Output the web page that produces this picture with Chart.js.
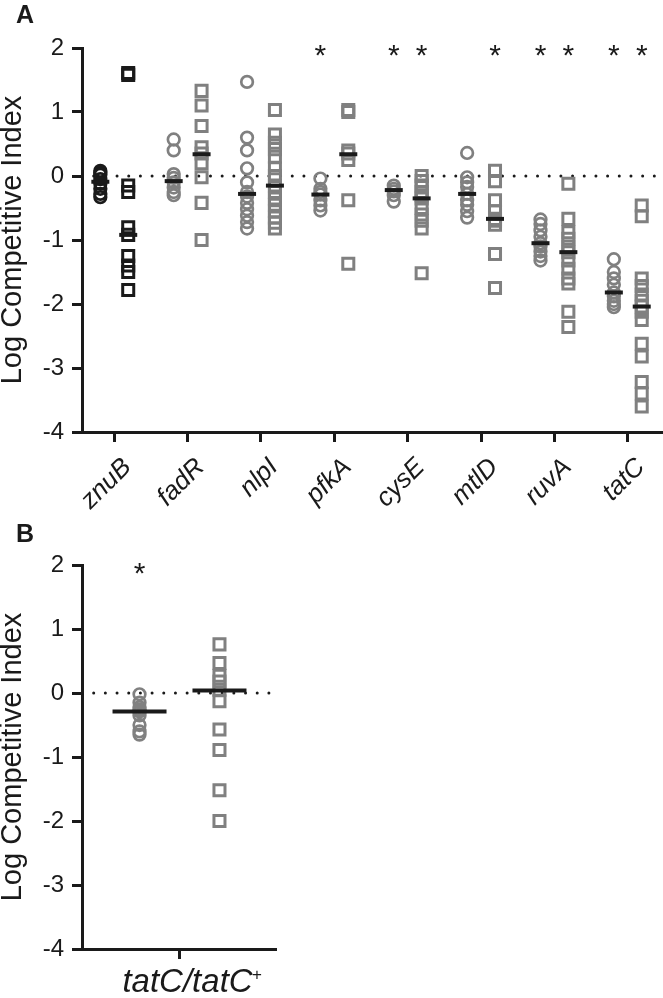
<!DOCTYPE html>
<html><head><meta charset="utf-8">
<script src="https://cdn.jsdelivr.net/npm/chart.js@4.4.1/dist/chart.umd.min.js"></script>
<style>
html,body{margin:0;padding:0;background:#fff;overflow:hidden;}
body{width:663px;height:998px;position:relative;font-family:'Liberation Sans',Arial,Helvetica,sans-serif;}
canvas{position:absolute;left:0;}
#ca{top:0;}
#cb{top:500px;}
.pl{position:absolute;font-weight:bold;font-size:25px;color:#1a1a1a;line-height:1;}
</style></head><body>
<canvas id="ca" width="663" height="530"></canvas>
<canvas id="cb" width="277" height="498"></canvas>
<div class="pl" style="left:16px;top:2px">A</div>
<div class="pl" style="left:16px;top:521px">B</div>
<script>
// ---------- Panel A data ----------
const genes = ['znuB','fadR','nlpI','pfkA','cysE','mtlD','ruvA','tatC'];
const yTicks = [-4,-3,-2,-1,0,1,2];
const znuB_circles = [0.08,0.05,0.02,-0.05,-0.12,-0.2,-0.28,-0.33];
const znuB_squares = [1.61,1.58,-0.15,-0.25,-0.8,-0.92,-1.25,-1.4,-1.5,-1.78];
const fadR_circles = [0.57,0.4,0.03,-0.03,-0.1,-0.18,-0.25,-0.3];
const fadR_squares = [1.33,1.1,0.78,0.45,0.35,0.2,-0.02,-0.42,-1.0];
const nlpI_circles = [1.47,0.6,0.4,0.12,-0.1,-0.25,-0.32,-0.42,-0.52,-0.62,-0.72,-0.82];
const nlpI_squares = [1.03,0.65,0.52,0.42,0.3,0.12,0.0,-0.15,-0.25,-0.35,-0.45,-0.55,-0.65,-0.73,-0.82];
const pfkA_circles = [-0.04,-0.2,-0.25,-0.29,-0.38,-0.46,-0.54];
const pfkA_squares = [1.03,1.0,0.4,0.35,0.25,-0.38,-1.37];
const cysE_circles = [-0.15,-0.2,-0.24,-0.3,-0.4];
const cysE_squares = [0.0,-0.08,-0.15,-0.25,-0.3,-0.35,-0.5,-0.6,-0.7,-0.82,-1.52];
const mtlD_circles = [0.36,-0.02,-0.1,-0.17,-0.28,-0.38,-0.45,-0.55,-0.65];
const mtlD_squares = [0.08,-0.08,-0.38,-0.55,-0.67,-0.7,-0.76,-1.22,-1.75];
const ruvA_circles = [-0.68,-0.75,-0.85,-0.95,-1.05,-1.1,-1.18,-1.25,-1.32];
const ruvA_squares = [-0.12,-0.67,-0.88,-0.98,-1.1,-1.19,-1.32,-1.45,-1.6,-1.68,-2.12,-2.36];
const tatC_circles = [-1.3,-1.5,-1.6,-1.7,-1.82,-1.88,-1.95,-2.0,-2.05];
const tatC_squares = [-0.46,-0.63,-1.6,-1.72,-1.85,-1.95,-2.04,-2.12,-2.25,-2.62,-2.82,-3.22,-3.4,-3.6];
const circleMedians = [-0.09,-0.08,-0.28,-0.29,-0.22,-0.28,-1.05,-1.82];
const squareMedians = [-0.92,0.34,-0.15,0.34,-0.35,-0.67,-1.19,-2.04];
const circleStars = [0,0,0,1,1,0,1,1];
const squareStars = [0,0,0,0,1,1,1,1];
const circleGroups = [znuB_circles,fadR_circles,nlpI_circles,pfkA_circles,cysE_circles,mtlD_circles,ruvA_circles,tatC_circles];
const squareGroups = [znuB_squares,fadR_squares,nlpI_squares,pfkA_squares,cysE_squares,mtlD_squares,ruvA_squares,tatC_squares];
const starLevel = 1.96;

// ---------- Panel B data ----------
const labelB = ['tatC/tatC'];
const labelBSup = ['+'];
const circlesB = [-0.02,-0.15,-0.22,-0.26,-0.29,-0.35,-0.5,-0.6,-0.65];
const squaresB = [0.76,0.47,0.27,0.18,0.05,-0.13,-0.57,-0.89,-1.52,-2.0];
const mediansB = [-0.29,0.04];
const starsB = [1,0];

// ---------- styles ----------
const FONT = "'Liberation Sans', Arial, Helvetica, sans-serif";
const INK = '#1a1a1a';
const GRAY = '#808080';

const starPlugin = {
  id: 'stars',
  afterDatasetsDraw(chart, args, opts) {
    const {ctx} = chart; const x = chart.scales.x, y = chart.scales.y;
    ctx.save();
    ctx.font = '30px ' + FONT; ctx.fillStyle = INK; ctx.textAlign = 'center'; ctx.textBaseline = 'alphabetic';
    const m = ctx.measureText('*');
    const shift = (m.actualBoundingBoxAscent - m.actualBoundingBoxDescent) / 2;
    for (const s of opts.list || []) {
      ctx.fillText('*', x.getPixelForValue(s.x), y.getPixelForValue(s.y) + shift);
    }
    ctx.restore();
  }
};

// category label with superscript for panel B
const supLabelPlugin = {
  id: 'supLabel',
  afterDraw(chart, args, opts) {
    if (!opts.text) return;
    const {ctx} = chart; const x = chart.scales.x;
    ctx.save();
    ctx.fillStyle = INK; ctx.textBaseline = 'alphabetic'; ctx.textAlign = 'left';
    const mainFont = 'italic 33px ' + FONT, supFont = 'italic 17px ' + FONT;
    ctx.font = mainFont; const w1 = ctx.measureText(opts.text).width;
    ctx.font = supFont; const w2 = ctx.measureText(opts.sup).width;
    const cx = x.getPixelForValue(0) + 13;
    const x0 = cx - (w1 + w2) / 2;
    const base = x.top + 43;
    ctx.font = mainFont; ctx.fillText(opts.text, x0, base);
    ctx.font = supFont; ctx.fillText(opts.sup, x0 + w1 - 1, base - 12);
    ctx.restore();
  }
};

function axisCommon() {
  return {
    grid: {display: true, drawOnChartArea: false, drawTicks: true, tickLength: 10, color: INK, lineWidth: 3},
    border: {display: true, color: INK, width: 3}
  };
}

function yAxis() {
  return Object.assign(axisCommon(), {
    min: -4, max: 2,
    afterBuildTicks: s => { s.ticks = yTicks.map(v => ({value: v})); },
    afterFit: s => { s.width = 82; },
    ticks: {padding: 8, color: INK, font: {family: FONT, size: 24}, callback: v => String(v)},
    title: {display: true, text: 'Log Competitive Index', color: INK, padding: {top: -2, bottom: 0}, font: {family: FONT, size: 29, lineHeight: 1}}
  });
}

function dotLine(x0, x1) {
  return {type: 'line', order: 3, data: [{x: x0, y: 0}, {x: x1, y: 0}], borderColor: INK, borderWidth: 3,
          borderDash: [0.01, 11.67], borderCapStyle: 'round', pointRadius: 0, fill: false};
}

// ---------- Panel A ----------
const OFF = 0.19;
const dsA = [];
dsA.push({type: 'scatter', order: 0,
  data: genes.flatMap((g, i) => [{x: i - OFF, y: circleMedians[i]}, {x: i + OFF, y: squareMedians[i]}]),
  pointStyle: 'line', pointRadius: 9, borderWidth: 4, borderColor: INK, backgroundColor: INK});
genes.forEach((g, i) => {
  const col = i === 0 ? INK : GRAY;
  dsA.push({type: 'scatter', order: 1, data: circleGroups[i].map(v => ({x: i - OFF, y: v})),
    pointStyle: 'circle', pointRadius: 5.8, borderWidth: 2.7, borderColor: col, backgroundColor: 'rgba(0,0,0,0)'});
  dsA.push({type: 'scatter', order: 1, data: squareGroups[i].map(v => ({x: i + OFF, y: v})),
    pointStyle: 'rect', pointRadius: 7.8, borderWidth: 3, borderColor: col, backgroundColor: 'rgba(0,0,0,0)'});
});
const XMIN_A = -0.44, XMAX_A = 7.48;
dsA.push(dotLine(XMIN_A, XMAX_A));

const starsA = [];
genes.forEach((g, i) => {
  if (circleStars[i]) starsA.push({x: i - OFF, y: starLevel});
  if (squareStars[i]) starsA.push({x: i + OFF, y: starLevel});
});

new Chart(document.getElementById('ca'), {
  data: {datasets: dsA},
  plugins: [starPlugin],
  options: {
    responsive: false, animation: false, events: [],
    layout: {autoPadding: false, padding: {top: 48, left: 0, right: 0, bottom: 0}},
    plugins: {legend: {display: false}, tooltip: {enabled: false}, stars: {list: starsA}},
    scales: {
      x: Object.assign(axisCommon(), {
        type: 'linear', min: XMIN_A, max: XMAX_A,
        afterBuildTicks: s => { s.ticks = genes.map((g, i) => ({value: i})); },
        afterFit: s => { s.height = 98; s.paddingLeft = 0; s.paddingRight = 0; },
        ticks: {autoSkip: false, minRotation: 45, maxRotation: 45, padding: 10, labelOffset: 13, color: INK,
                font: {family: FONT, size: 26, style: 'italic'}, callback: v => genes[v] ?? ''}
      }),
      y: yAxis()
    }
  }
});

// ---------- Panel B ----------
const OFFB = 0.205;
const dsB = [
  {type: 'scatter', order: 0, data: [{x: -OFFB, y: mediansB[0]}, {x: OFFB, y: mediansB[1]}],
   pointStyle: 'line', pointRadius: 27, borderWidth: 4, borderColor: INK, backgroundColor: INK},
  {type: 'scatter', order: 1, data: circlesB.map(v => ({x: -OFFB, y: v})),
   pointStyle: 'circle', pointRadius: 5.8, borderWidth: 2.7, borderColor: GRAY, backgroundColor: 'rgba(0,0,0,0)'},
  {type: 'scatter', order: 1, data: squaresB.map(v => ({x: OFFB, y: v})),
   pointStyle: 'rect', pointRadius: 7.8, borderWidth: 3, borderColor: GRAY, backgroundColor: 'rgba(0,0,0,0)'},
  dotLine(-0.5, 0.5)
];
const starListB = [];
if (starsB[0]) starListB.push({x: -OFFB, y: 1.95});
if (starsB[1]) starListB.push({x: OFFB, y: 1.95});

new Chart(document.getElementById('cb'), {
  data: {datasets: dsB},
  plugins: [starPlugin, supLabelPlugin],
  options: {
    responsive: false, animation: false, events: [],
    layout: {autoPadding: false, padding: {top: 65, left: 0, right: 0, bottom: 0}},
    plugins: {legend: {display: false}, tooltip: {enabled: false}, stars: {list: starListB},
              supLabel: {text: labelB[0], sup: labelBSup[0]}},
    scales: {
      x: Object.assign(axisCommon(), {
        type: 'linear', min: -0.5, max: 0.5,
        afterBuildTicks: s => { s.ticks = [{value: 0}]; },
        afterFit: s => { s.height = 49; s.paddingLeft = 0; s.paddingRight = 0; },
        ticks: {display: false}
      }),
      y: yAxis()
    }
  }
});
</script>
</body></html>
